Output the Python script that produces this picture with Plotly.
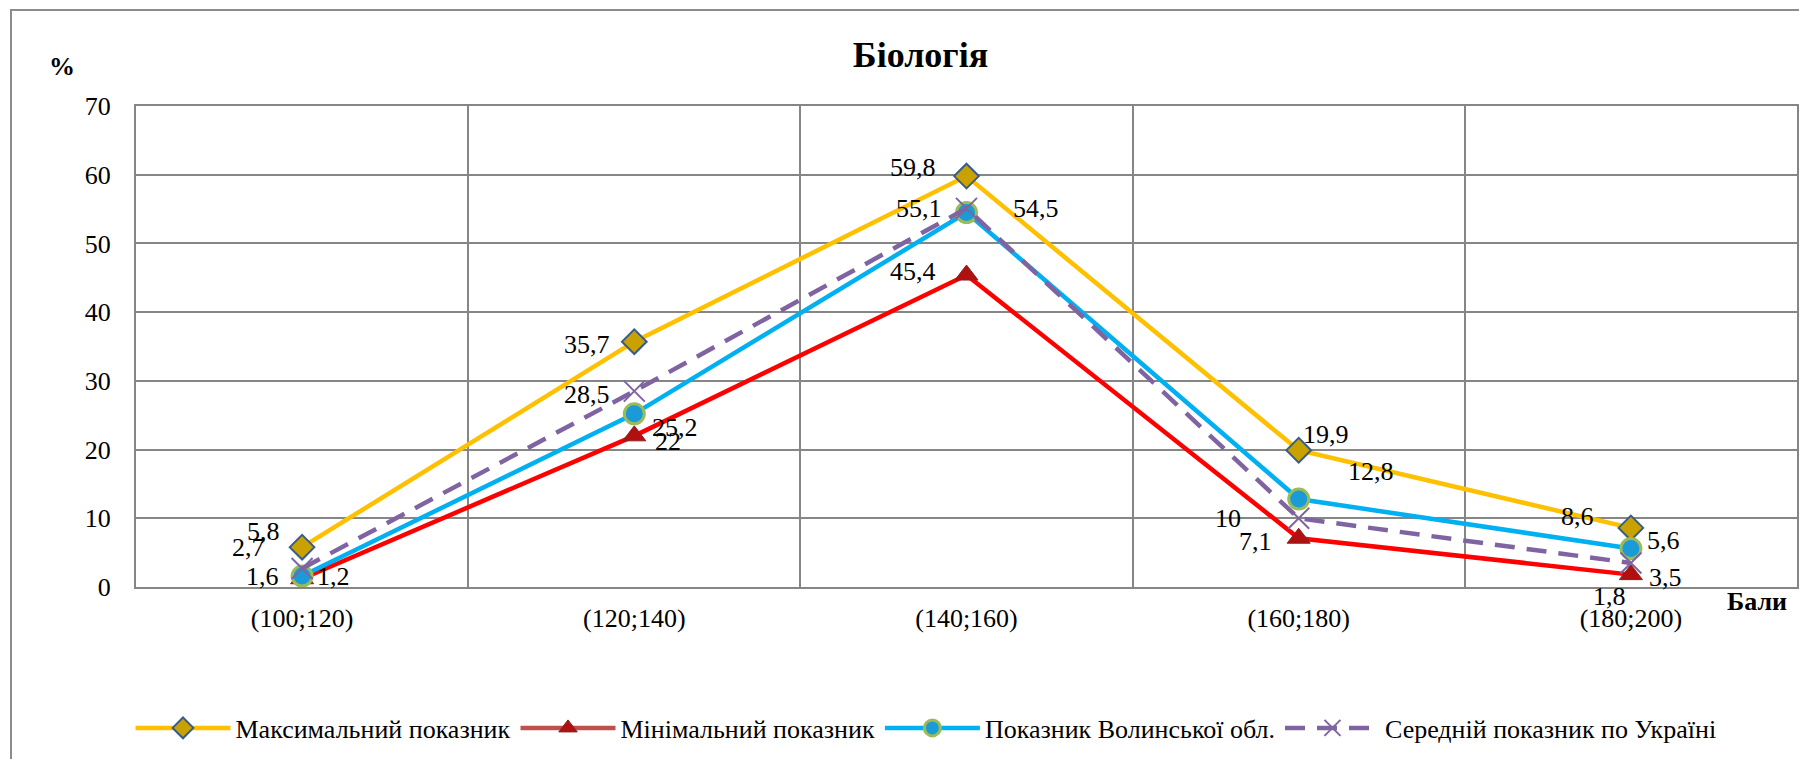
import plotly.graph_objects as go

# --- data ---
categories = ["(100;120)", "(120;140)", "(140;160)", "(160;180)", "(180;200)"]
max_vals = [5.8, 35.7, 59.8, 19.9, 8.6]
min_vals = [1.2, 22, 45.4, 7.1, 1.8]
volyn_vals = [1.6, 25.2, 54.5, 12.8, 5.6]
avg_vals = [2.7, 28.5, 55.1, 10, 3.5]
y_ticks = [0, 10, 20, 30, 40, 50, 60, 70]

names = ["Максимальний показник", "Мінімальний показник",
         "Показник Волинської обл.", "Середній показник по Україні"]

FONT = "Liberation Serif, Times New Roman, serif"
GRID = "#868686"

# plot area in figure pixels
L, T, R, B = 128, 98, 18, 180
PW, PH = 1807 - L - R, 759 - T - B


def px(x):
    return (x - L) / PW


def py(y):
    return (759 - B - y) / PH


def lbl(v):
    return f"{v:g}".replace(".", ",")


xs = list(range(len(categories)))

# label offsets (px, right / up) copied from the Excel layout
series = [
    dict(y=max_vals, name=names[0], line=dict(color="#FFC000", width=4.5),
         marker=dict(symbol="diamond", size=19, color="#C9A100",
                     line=dict(color="#385D8A", width=2)),
         off=[(-39, 16), (-47, -3), (-54, 9), (27, 16), (-53, 11)],
         legend_line="#FFC000"),
    dict(y=min_vals, name=names[1], line=dict(color="#FF0000", width=4.5),
         marker=dict(symbol="triangle-up", size=20, color="#B01010",
                     line=dict(color="#8B2020", width=1)),
         off=[(31, 2), (34, -6), (-54, 4), (-43, -3), (-21, -22)],
         legend_line="#C0504D"),
    dict(y=volyn_vals, name=names[2], line=dict(color="#00B0F0", width=4.5),
         marker=dict(symbol="circle", size=20, color="#1A9AD6",
                     line=dict(color="#9BBB59", width=3)),
         off=[(-40, 0), (41, -14), (69, 4), (72, 28), (33, 8)],
         legend_line="#00B0F0"),
    dict(y=avg_vals, name=names[3], line=dict(color="#8064A2", width=4.5, dash="20px,12px"),
         marker=dict(symbol="x-thin-open", size=21, color="#8064A2",
                     line=dict(color="#8064A2", width=2)),
         off=[(-54, 21), (-47, -3), (-48, 0), (-71, 0), (35, -15)],
         legend_line="#8064A2"),
]

fig = go.Figure()
for s in series:
    fig.add_trace(go.Scatter(
        x=xs, y=s["y"], mode="lines+markers", name=s["name"],
        line=s["line"], marker=s["marker"],
        showlegend=False, cliponaxis=False,
    ))

# data labels
for s in series:
    for xi, v, (dx, dy) in zip(xs, s["y"], s["off"]):
        fig.add_annotation(x=xi, y=v, text=lbl(v), showarrow=False,
                           xanchor="center", yanchor="middle", xshift=dx, yshift=dy,
                           font=dict(family=FONT, size=26, color="#000000"))

# legend entries (Excel draws the min series legend in a different red)
for s in series:
    line = dict(s["line"])
    line["color"] = s["legend_line"]
    fig.add_trace(go.Scatter(
        x=[None], y=[None], mode="lines+markers", name=s["name"],
        line=line, marker=s["marker"], showlegend=True,
    ))

fig.update_layout(
    width=1807, height=759,
    paper_bgcolor="white", plot_bgcolor="white",
    font=dict(family=FONT, size=26, color="#000000"),
    margin=dict(l=L, r=R, t=T, b=B),
    title=dict(text="<b>Біологія</b>", x=0.505, xanchor="center", y=1 - 46 / 759, yanchor="middle",
               font=dict(family=FONT, size=36, color="#000000")),
    xaxis=dict(
        range=[-0.5, 4.5], tickvals=xs, ticktext=categories, automargin=False,
        showgrid=False, zeroline=False, ticks="", ticklabelstandoff=7,
        showline=True, linecolor=GRID, linewidth=2, mirror=True,
        minor=dict(tick0=-0.5, dtick=1, showgrid=True, gridcolor=GRID, gridwidth=1.5),
        tickfont=dict(family=FONT, size=26),
    ),
    yaxis=dict(
        range=[0, 70], tickvals=y_ticks, showgrid=True, gridcolor=GRID, gridwidth=1.5,
        zeroline=False, ticks="", ticklabelstandoff=18, automargin=False,
        showline=True, linecolor=GRID, linewidth=2, mirror=True,
        tickfont=dict(family=FONT, size=26),
    ),
    legend=dict(orientation="h", x=px(918), xanchor="center", y=py(720), yanchor="middle",
                font=dict(family=FONT, size=26), itemwidth=95, bgcolor="rgba(0,0,0,0)"),
    showlegend=True,
)

fig.add_annotation(text="<b>%</b>", xref="paper", yref="paper",
                   x=px(54), y=py(59), xanchor="center", yanchor="middle", showarrow=False,
                   font=dict(family=FONT, size=26))
fig.add_annotation(text="<b>Бали</b>", xref="paper", yref="paper",
                   x=px(1749), y=py(593), xanchor="center", yanchor="middle", showarrow=False,
                   font=dict(family=FONT, size=26))

# outer chart frame
fig.add_shape(type="rect", xref="paper", yref="paper", layer="below",
              x0=px(3), x1=px(1830), y0=py(790), y1=py(2),
              line=dict(color="#8C8C8C", width=2))

fig.write_html("out.html")
